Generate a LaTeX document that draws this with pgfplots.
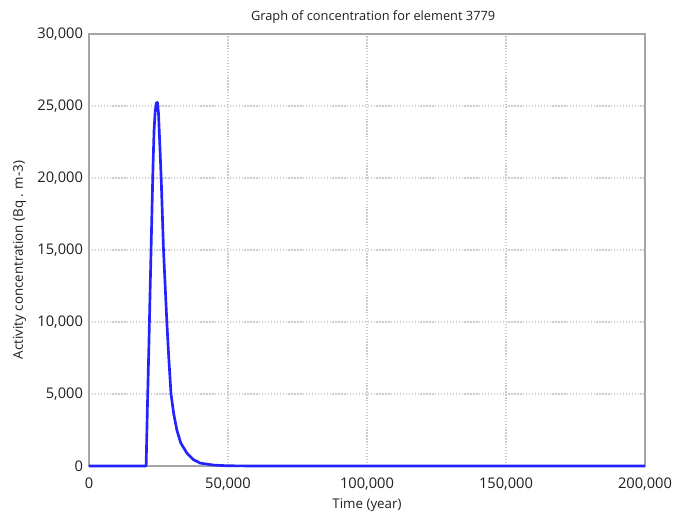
\documentclass[border=0pt]{standalone}
\usepackage{fontspec}
\setmainfont{Open Sans}
\usepackage{pgfplots}
\pgfplotsset{compat=1.18}
\definecolor{frame}{RGB}{165,165,165}
\definecolor{gridc}{RGB}{205,205,205}
\definecolor{txt}{RGB}{30,30,30}
\definecolor{curve}{RGB}{35,35,255}
\begin{document}
\begin{tikzpicture}
\begin{axis}[
  at={(0pt,0pt)}, anchor=south west,
  scale only axis, width=417pt, height=324pt,
  xmin=0, xmax=200000, ymin=0, ymax=30000,
  xtick={0,50000,100000,150000,200000},
  ytick={0,5000,10000,15000,20000,25000,30000},
  xticklabels={0,{50,000},{100,000},{150,000},{200,000}},
  yticklabels={0,{5,000},{10,000},{15,000},{20,000},{25,000},{30,000}},
  scaled ticks=false,
  tick label style={font=\fontsize{11}{12}\selectfont, text=txt},
  major tick length=0pt,
  xticklabel style={yshift=-5pt},
  yticklabel style={xshift=-1pt},
  grid=major,
  major grid style={gridc, dash pattern=on 1pt off 1.2pt, line width=1pt},
  axis line style={frame, line width=1.8pt},
  label style={font=\fontsize{10}{12}\selectfont, text=txt},
  xlabel={Time (year)},
  ylabel={Activity concentration (Bq . m-3)},
  xlabel style={at={(axis description cs:0.5,0)}, anchor=center, yshift=-29.5pt},
  ylabel style={at={(axis description cs:0,0.477)}, anchor=center, yshift=52pt},
  title={Graph of concentration for element 3779},
  title style={font=\fontsize{9.6}{12}\selectfont, text=txt, at={(axis description cs:0.511,1)}, anchor=center, yshift=6.5pt},
  clip=false,
]
\addplot[curve, line width=2pt, line join=round] coordinates {
(0,0) (20000,0) (20550,0) (21000,4000) (21500,8000) (22000,12300) (22500,16500) (23000,20600) (23400,23300) (23800,24600)
(24200,25200) (24600,25250) (25000,24500) (25500,22200) (26000,19800) (26800,15000) (28000,10000) (28700,7500) (29500,5000)
(30500,3600) (31600,2500) (33000,1600) (35200,900) (37500,450) (40000,200) (45000,60) (50000,15) (60000,0) (200000,0)
};
\end{axis}
\pgfresetboundingbox
\path (-66.75pt,-39pt) rectangle (441.75pt,349.5pt);
\end{tikzpicture}
\end{document}
